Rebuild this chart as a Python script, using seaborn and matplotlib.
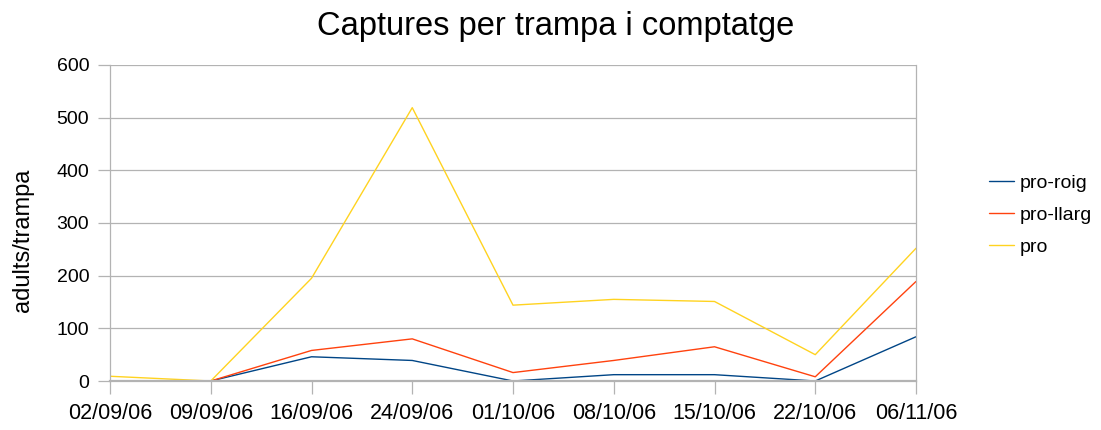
import numpy as np
import pandas as pd
import seaborn as sns
import matplotlib
matplotlib.use("Agg")
import matplotlib.pyplot as plt

# data
dates = ["02/09/06", "09/09/06", "16/09/06", "24/09/06", "01/10/06",
         "08/10/06", "15/10/06", "22/10/06", "06/11/06"]
pro_roig = [0, 0, 46, 39, 0, 12, 12, 0, 84]
pro_llarg = [0, 0, 58, 80, 16, 39, 65, 8, 189]
pro = [9, 0, 195, 519, 144, 155, 151, 50, 252]
series_names = ["pro-roig", "pro-llarg", "pro"]
y_ticks = [0, 100, 200, 300, 400, 500, 600]

colors = {"pro-roig": "#004586", "pro-llarg": "#ff420e", "pro": "#ffd320"}
grey = "#b3b3b3"

sns.set_theme(style="white")
plt.rcParams['font.family'] = ['Liberation Sans', 'DejaVu Sans']
plt.rcParams['text.color'] = 'black'
plt.rcParams['axes.labelcolor'] = 'black'

df = pd.DataFrame({
    "data": dates * 3,
    "valor": pro_roig + pro_llarg + pro,
    "serie": np.repeat(series_names, len(dates)),
})

fig = plt.figure(figsize=(11.01, 4.30), dpi=100)
ax = fig.add_axes([110 / 1101, 49 / 430, 806 / 1101, 316 / 430])

sns.lineplot(data=df, x="data", y="valor", hue="serie", hue_order=series_names,
             palette=colors, sort=False, linewidth=1.0, ax=ax)

ax.set_xlim(0, len(dates) - 1)
ax.set_ylim(0, 600)
ax.set_yticks(y_ticks)
ax.yaxis.grid(True, color=grey, linewidth=0.9)
ax.xaxis.grid(False)
ax.set_axisbelow(True)

for side in ["left", "right", "bottom"]:
    ax.spines[side].set_color(grey)
    ax.spines[side].set_linewidth(0.9)
ax.spines["bottom"].set_linewidth(1.6)
ax.spines["top"].set_visible(False)

ax.tick_params(axis="y", length=9, width=0.9, color=grey, pad=6,
               labelsize=14, labelcolor="black", left=True)
ax.tick_params(axis="x", length=9, width=0.9, color=grey, pad=7,
               labelsize=15.5, labelcolor="black", bottom=True)

ax.set_xlabel("")
ax.set_ylabel("")
fig.text(23 / 1101, 1 - 240 / 430, "adults/trampa", fontsize=17,
         rotation=90, ha="center", va="center")

fig.text(556 / 1101, 1 - 35 / 430, "Captures per trampa i comptatge",
         fontsize=23.5, ha="center", va="baseline")

handles, labels = ax.get_legend_handles_labels()
ax.get_legend().remove()
fig.legend(handles, labels, loc="center left", bbox_to_anchor=(989 / 1101, 0.5),
           frameon=False, fontsize=14, handlelength=1.3, handletextpad=0.3,
           labelspacing=0.75, borderpad=0, borderaxespad=0)

fig.savefig("out.png", dpi=100)
